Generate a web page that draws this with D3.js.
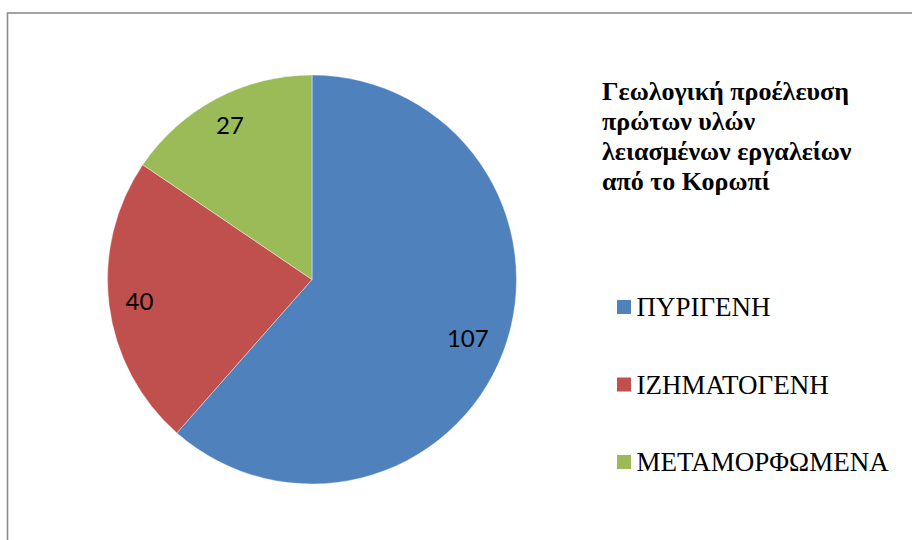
<!DOCTYPE html>
<html lang="el">
<head>
<meta charset="UTF-8">
<title>Γεωλογική προέλευση</title>
<script src="https://d3js.org/d3.v7.min.js"></script>
<style>
  body { margin: 0; background: #fff; }
</style>
</head>
<body>
<div id="chart"></div>
<script>
// data
const categories = ["ΠΥΡΙΓΕΝΗ", "ΙΖΗΜΑΤΟΓΕΝΗ", "ΜΕΤΑΜΟΡΦΩΜΕΝΑ"];
const values = [107, 40, 27];
const colors = ["#4F81BD", "#C0504D", "#9BBB59"];
const titleLines = ["Γεωλογική προέλευση", "πρώτων υλών", "λειασμένων εργαλείων", "από το Κορωπί"];

const width = 912, height = 540;
const cx = 312, cy = 279.5, r = 204.5;
const labelSize = 24;

const svg = d3.select("#chart").append("svg")
    .attr("width", width)
    .attr("height", height);

// chart frame (runs off the right and bottom edges)
svg.append("rect")
    .attr("x", 7.5).attr("y", 13)
    .attr("width", width + 10).attr("height", height + 10)
    .attr("fill", "none")
    .attr("stroke", "#8c8c8c")
    .attr("stroke-width", 1.6);

const pie = d3.pie().sort(null).value(d => d);
const arc = d3.arc().innerRadius(0).outerRadius(r);
const pieData = pie(values);

const g = svg.append("g").attr("transform", `translate(${cx},${cy})`);

g.selectAll("path")
    .data(pieData)
    .enter()
    .append("path")
    .attr("d", arc)
    .attr("fill", (d, i) => colors[i])
    .attr("stroke", "#ffffff")
    .attr("stroke-opacity", 0.5)
    .attr("stroke-width", 0.8);

// value labels, "inside end": push each label out along its mid angle
// until the far corner of its box reaches r - 15.5
const labels = g.selectAll("text.val")
    .data(pieData)
    .enter()
    .append("text")
    .attr("class", "val")
    .attr("dy", "0.36em")
    .style("text-anchor", "middle")
    .style("font-family", "Lato, 'Open Sans', sans-serif")
    .style("font-size", labelSize + "px")
    .style("fill", "#000")
    .text(d => d.data);

labels.attr("transform", function (d) {
    const a = (d.startAngle + d.endAngle) / 2;
    const ux = Math.sin(a), uy = -Math.cos(a);
    const hw = this.getComputedTextLength() / 2;
    const hh = labelSize * 0.36;
    const sx = ux < 0 ? -hw : hw, sy = uy < 0 ? -hh : hh;
    const target = r - 15.5;
    let t = 0;
    while (t < r && Math.hypot(t * ux + sx, t * uy + sy) < target) t += 0.5;
    return `translate(${t * ux},${t * uy})`;
});

// title
const title = svg.append("text")
    .attr("x", 602)
    .attr("y", 100)
    .style("font-family", "'Liberation Serif', 'DejaVu Serif', serif")
    .style("font-weight", "bold")
    .style("font-size", "26px")
    .style("fill", "#000");

title.selectAll("tspan")
    .data(titleLines)
    .enter()
    .append("tspan")
    .attr("x", 602)
    .attr("dy", (d, i) => i === 0 ? 0 : 30)
    .text(d => d);

// legend
const legend = svg.append("g").attr("transform", "translate(617,300)");
const item = legend.selectAll("g")
    .data(categories)
    .enter()
    .append("g")
    .attr("transform", (d, i) => `translate(0,${i * 77.5})`);

item.append("rect")
    .attr("width", 14).attr("height", 14)
    .attr("fill", (d, i) => colors[i]);

item.append("text")
    .attr("x", 19.5)
    .attr("y", 16)
    .style("font-family", "'Liberation Serif', 'DejaVu Serif', serif")
    .style("font-size", "27px")
    .style("fill", "#000")
    .text(d => d);
</script>
</body>
</html>
